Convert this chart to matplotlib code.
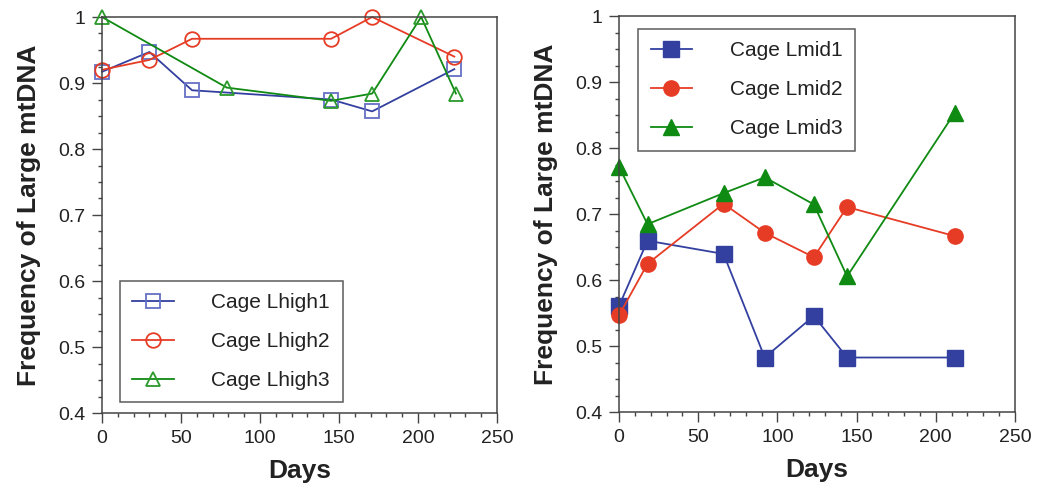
import matplotlib
matplotlib.use('Agg')
import matplotlib.pyplot as plt
from matplotlib.ticker import MultipleLocator

plt.rcParams['font.family'] = ['Liberation Sans', 'DejaVu Sans']

BLUE = '#3340a0'
RED = '#e63c25'
GREEN = '#0f8a12'

# left panel: Lhigh cages
high1_days = [0, 30, 57, 145, 171, 223]
high1_freq = [0.917, 0.947, 0.889, 0.875, 0.857, 0.921]
high2_days = [0, 30, 57, 145, 171, 223]
high2_freq = [0.920, 0.935, 0.967, 0.967, 1.0, 0.940]
high3_days = [0, 79, 145, 171, 202, 224]
high3_freq = [1.0, 0.893, 0.873, 0.884, 1.0, 0.884]

# right panel: Lmid cages
mid_days = [0, 18, 66, 92, 123, 144, 212]
mid1_freq = [0.561, 0.660, 0.640, 0.483, 0.546, 0.483, 0.483]
mid2_freq = [0.547, 0.625, 0.716, 0.672, 0.635, 0.711, 0.667]
mid3_freq = [0.772, 0.685, 0.732, 0.756, 0.715, 0.606, 0.854]

x_ticks = [0, 50, 100, 150, 200, 250]
y_ticks = [0.4, 0.5, 0.6, 0.7, 0.8, 0.9, 1.0]
y_labels = ['0.4', '0.5', '0.6', '0.7', '0.8', '0.9', '1']


def style_axes(ax):
    ax.set_xlim(0, 250)
    ax.set_ylim(0.4, 1.0)
    ax.set_xticks(x_ticks)
    ax.set_yticks(y_ticks)
    ax.set_yticklabels(y_labels)
    ax.xaxis.set_minor_locator(MultipleLocator(10))
    ax.yaxis.set_minor_locator(MultipleLocator(0.025))
    ax.tick_params(which='major', direction='out', length=7, width=1,
                   color='#444444', labelsize=14, pad=5, labelcolor='#222222')
    ax.tick_params(which='minor', direction='out', length=3, width=1,
                   color='#444444')
    for s in ax.spines.values():
        s.set_color('#444444')
        s.set_linewidth(1.1)
    ax.set_xlabel('Days', fontsize=19, fontweight='bold', labelpad=9,
                  color='#222222')
    ax.set_ylabel('Frequency of Large mtDNA', fontsize=19, fontweight='bold',
                  labelpad=12, color='#222222')


fig = plt.figure(figsize=(10.37, 4.91), dpi=100)
ax1 = fig.add_axes([102 / 1037, 78 / 491, 395 / 1037, 396 / 491])
ax2 = fig.add_axes([619 / 1037, 78.7 / 491, 396 / 1037, 396 / 491])

ax1.plot(high1_days, high1_freq, color=BLUE, lw=1.3, marker='s', ms=9.5,
         mfc='none', mec='#6470c4', mew=1.3, label='Cage Lhigh1', clip_on=False)
ax1.plot(high2_days, high2_freq, color=RED, lw=1.3, marker='o', ms=10.5,
         mfc='none', mec=RED, mew=1.3, label='Cage Lhigh2', clip_on=False)
ax1.plot(high3_days, high3_freq, color=GREEN, lw=1.3, marker='^', ms=10.5,
         mfc='none', mec='#2a9a2a', mew=1.3, label='Cage Lhigh3', clip_on=False)
style_axes(ax1)
leg1 = ax1.legend(loc='lower left', bbox_to_anchor=(0.045, 0.027),
                  fontsize=15, frameon=True, fancybox=False, edgecolor='#333333',
                  handlelength=2.0, handletextpad=1.8, labelspacing=0.95,
                  borderpad=0.6, borderaxespad=0)
leg1.get_frame().set_linewidth(1.1)

ax2.plot(mid_days, mid1_freq, color=BLUE, lw=1.3, marker='s', ms=11,
         label='Cage Lmid1', clip_on=False)
ax2.plot(mid_days, mid2_freq, color=RED, lw=1.3, marker='o', ms=11,
         label='Cage Lmid2', clip_on=False)
ax2.plot(mid_days, mid3_freq, color=GREEN, lw=1.3, marker='^', ms=11,
         label='Cage Lmid3', clip_on=False)
style_axes(ax2)
leg2 = ax2.legend(loc='upper left', bbox_to_anchor=(0.048, 0.968),
                  fontsize=15, frameon=True, fancybox=False, edgecolor='#333333',
                  handlelength=2.0, handletextpad=1.8, labelspacing=0.95,
                  borderpad=0.6, borderaxespad=0)
leg2.get_frame().set_linewidth(1.1)

for leg in (leg1, leg2):
    for t in leg.get_texts():
        t.set_color('#222222')

fig.savefig('out.png', dpi=100)
